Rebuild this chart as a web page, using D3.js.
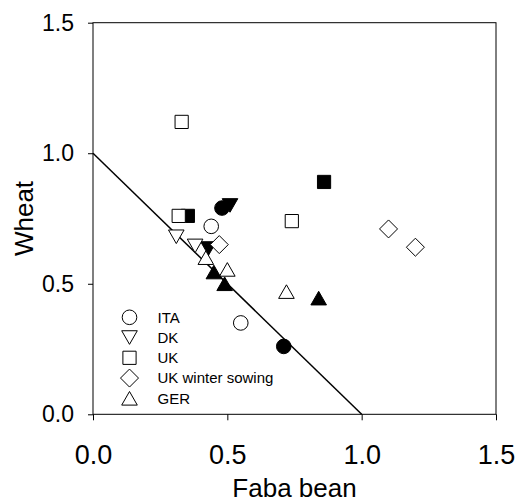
<!DOCTYPE html>
<html>
<head>
<meta charset="utf-8">
<script src="https://cdn.jsdelivr.net/npm/d3@7"></script>
<style>
html,body{margin:0;padding:0;background:#fff;}
svg{display:block;font-family:"Liberation Sans",Arial,sans-serif;}
</style>
</head>
<body>
<svg id="chart" width="520" height="504"></svg>
<script>
// ---- data ----
const groups = ["ITA", "DK", "UK", "UK winter sowing", "GER"];
const groupShapes = ["circle", "triangleDown", "square", "diamond", "triangleUp"];
// [Faba bean, Wheat] pairs
const itaFilled = [[0.48, 0.79], [0.71, 0.26]];
const itaOpen = [[0.44, 0.72], [0.55, 0.35]];
const dkFilled = [[0.43, 0.635], [0.51, 0.80]];
const dkOpen = [[0.31, 0.68], [0.38, 0.645]];
const ukFilled = [[0.353, 0.76], [0.86, 0.89]];
const ukOpen = [[0.33, 1.12], [0.319, 0.76], [0.74, 0.74]];
const ukWinterOpen = [[0.47, 0.65], [1.10, 0.71], [1.20, 0.64]];
const gerOpen = [[0.42, 0.60], [0.50, 0.555], [0.72, 0.47]];
const gerFilled = [[0.45, 0.545], [0.49, 0.50], [0.84, 0.445]];
const refLine = [[0, 1], [1, 0]];
const xTicks = [0, 0.5, 1.0, 1.5];
const yTicks = [0, 0.5, 1.0, 1.5];
const xTitle = "Faba bean";
const yTitle = "Wheat";

// ---- drawing ----
const svg = d3.select("#chart");
const pLeft = 93, pRight = 496, pTop = 22.7, pBottom = 414.3;
const x = d3.scaleLinear().domain([0, 1.5]).range([pLeft, pRight]);
const y = d3.scaleLinear().domain([0, 1.5]).range([pBottom, pTop]);

function shapePath(type) {
  switch (type) {
    case "circle": {
      const r = 7.3;
      return `M${r},0A${r},${r},0,1,1,${-r},0A${r},${r},0,1,1,${r},0Z`;
    }
    case "square": {
      const h = 6.6;
      return `M${-h},${-h}H${h}V${h}H${-h}Z`;
    }
    case "triangleUp": {
      const w = 7.8, hh = 6.8;
      return `M0,${-hh}L${w},${hh}L${-w},${hh}Z`;
    }
    case "triangleDown": {
      const w = 7.8, hh = 6.8;
      return `M0,${hh}L${w},${-hh}L${-w},${-hh}Z`;
    }
    case "diamond": {
      const d = 9;
      return `M0,${-d}L${d},0L0,${d}L${-d},0Z`;
    }
  }
}

// axes
const xAxis = d3.axisBottom(x).tickValues(xTicks).tickFormat(d3.format(".1f"))
  .tickSizeInner(6).tickSizeOuter(0).tickPadding(24.5);
const yAxis = d3.axisLeft(y).tickValues(yTicks).tickFormat(d3.format(".1f"))
  .tickSizeInner(5).tickSizeOuter(0).tickPadding(14);

const gx = svg.append("g").attr("transform", `translate(0,${pBottom})`).call(xAxis);
gx.select(".domain").remove();
gx.selectAll("text").attr("font-size", 27).attr("font-family", "Liberation Sans, Arial, sans-serif").attr("fill", "#000");
gx.selectAll("line").attr("stroke", "#000");

const gy = svg.append("g").attr("transform", `translate(${pLeft},0)`).call(yAxis);
gy.select(".domain").remove();
gy.selectAll("text").attr("font-size", 23).attr("font-family", "Liberation Sans, Arial, sans-serif").attr("fill", "#000");
gy.selectAll("line").attr("stroke", "#000");

// frame
svg.append("rect")
  .attr("x", x(0)).attr("y", y(1.5))
  .attr("width", x(1.5) - x(0)).attr("height", y(0) - y(1.5))
  .attr("fill", "none").attr("stroke", "#000").attr("stroke-width", 1);

// reference line
svg.append("path")
  .datum(refLine)
  .attr("d", d3.line().x(d => x(d[0])).y(d => y(d[1])))
  .attr("fill", "none").attr("stroke", "#000").attr("stroke-width", 1.5);

// points (drawing order matters for overlaps)
const layers = [
  { data: itaFilled, shape: "circle", filled: true },
  { data: itaOpen, shape: "circle", filled: false },
  { data: dkFilled, shape: "triangleDown", filled: true },
  { data: dkOpen, shape: "triangleDown", filled: false },
  { data: ukFilled, shape: "square", filled: true },
  { data: ukOpen, shape: "square", filled: false },
  { data: ukWinterOpen, shape: "diamond", filled: false },
  { data: gerOpen, shape: "triangleUp", filled: false },
  { data: gerFilled, shape: "triangleUp", filled: true }
];
layers.forEach(layer => {
  svg.append("g").selectAll("path")
    .data(layer.data).join("path")
    .attr("transform", d => `translate(${x(d[0])},${y(d[1])})`)
    .attr("d", shapePath(layer.shape))
    .attr("fill", layer.filled ? "#000" : "#fff")
    .attr("stroke", "#000").attr("stroke-width", 1);
});

// legend
const legY = d3.scaleLinear().domain([0, groups.length - 1]).range([317.3, 398.3]);
const leg = svg.append("g");
groups.forEach((g, i) => {
  leg.append("path")
    .attr("transform", `translate(129.5,${legY(i)})`)
    .attr("d", shapePath(groupShapes[i]))
    .attr("fill", "#fff").attr("stroke", "#000").attr("stroke-width", 1);
  leg.append("text")
    .attr("x", 157.5).attr("y", legY(i) + 5.3)
    .attr("font-size", 15).attr("fill", "#000")
    .text(g);
});

// axis titles
svg.append("text")
  .attr("x", (pLeft + pRight) / 2).attr("y", 497)
  .attr("text-anchor", "middle").attr("font-size", 26).attr("fill", "#000")
  .text(xTitle);
svg.append("text")
  .attr("transform", `translate(32.5,${(pTop + pBottom) / 2}) rotate(-90)`)
  .attr("text-anchor", "middle").attr("font-size", 26).attr("fill", "#000")
  .text(yTitle);
</script>
</body>
</html>
